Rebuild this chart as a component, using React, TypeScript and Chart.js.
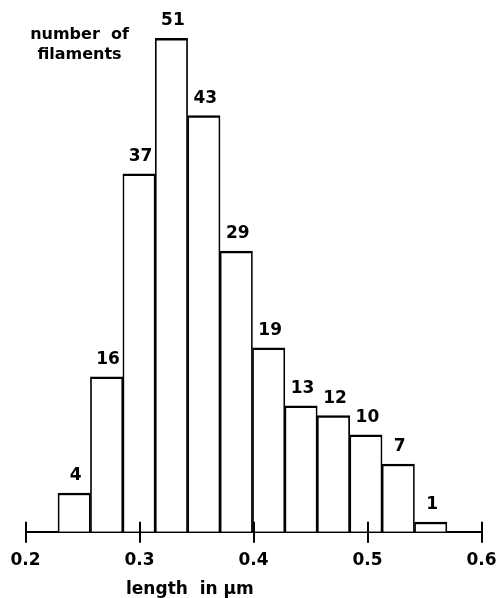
import React, { useEffect, useRef } from "react";
import { Chart, registerables } from "chart.js";

Chart.register(...registerables);

// Histogram bin edges (length in µm)
const binEdges = [
  0.2285, 0.2569, 0.2854, 0.3138, 0.3422, 0.3707, 0.3991, 0.4275, 0.4559,
  0.4844, 0.5128, 0.5412, 0.5697,
];
// Number of filaments in each bin
const counts = [4, 16, 37, 51, 43, 29, 19, 13, 12, 10, 7, 1];
// X axis tick values
const xTickValues = [0.2, 0.3, 0.4, 0.5, 0.6];
const yTitleLines = ["number  of", "filaments"];
const xTitle = "length  in μm";

const FONT = '"DejaVu Sans", "Liberation Sans", sans-serif';

export default function App() {
  const ref = useRef<HTMLCanvasElement>(null);

  useEffect(() => {
    if (!ref.current) return;
    const points = counts.map((c, i) => ({
      x: (binEdges[i] + binEdges[i + 1]) / 2,
      y: c,
    }));

    const overlay = {
      id: "overlay",
      afterDatasetsDraw(chart: any) {
        const ctx = chart.ctx as CanvasRenderingContext2D;
        const xs = chart.scales.x;
        const area = chart.chartArea;
        ctx.save();
        ctx.strokeStyle = "#000";
        ctx.lineWidth = 2;
        // tick marks also pointing upward from the axis
        xTickValues.forEach((v) => {
          const px = Math.round(xs.getPixelForValue(v));
          ctx.beginPath();
          ctx.moveTo(px, area.bottom - 10);
          ctx.lineTo(px, area.bottom + 1);
          ctx.stroke();
        });
        // value labels above bars
        ctx.fillStyle = "#000";
        ctx.font = `bold 17px ${FONT}`;
        ctx.textAlign = "center";
        ctx.textBaseline = "alphabetic";
        const meta = chart.getDatasetMeta(0);
        meta.data.forEach((el: any, i: number) => {
          ctx.fillText(String(counts[i]), el.x + 1.5, el.y - 13);
        });
        // y title (top-left)
        ctx.font = `bold 16px ${FONT}`;
        ctx.textAlign = "center";
        ctx.fillText(yTitleLines[0], area.left + 54, area.top + 10.5);
        ctx.fillText(yTitleLines[1], area.left + 54, area.top + 30.7);
        // x title
        ctx.font = `bold 17px ${FONT}`;
        ctx.textAlign = "left";
        ctx.fillText(xTitle, area.left + 100.5, area.bottom + 62);
        ctx.restore();
      },
    };

    const chart = new Chart(ref.current, {
      type: "bar",
      data: {
        datasets: [
          {
            data: points,
            backgroundColor: "#ffffff",
            borderColor: "#000000",
            borderWidth: { top: 2.5, left: 1.7, right: 1.7, bottom: 0 },
            borderSkipped: "start",
            barPercentage: 1,
            categoryPercentage: 1,
          },
        ],
      },
      options: {
        animation: false,
        responsive: false,
        devicePixelRatio: 1,
        layout: { padding: { top: 28.6, left: 25.5, right: 16.5, bottom: 19.6 } },
        plugins: {
          legend: { display: false },
          tooltip: { enabled: false },
          title: { display: false },
        },
        scales: {
          x: {
            type: "linear",
            min: 0.2,
            max: 0.6,
            offset: false,
            afterBuildTicks: (scale: any) => {
              scale.ticks = xTickValues.map((v) => ({ value: v }));
            },
            grid: {
              offset: false,
              display: true,
              drawOnChartArea: false,
              drawTicks: true,
              tickLength: 11,
              lineWidth: 2,
              color: "#000",
            },
            border: { display: true, color: "#000", width: 2 },
            ticks: {
              color: "#000",
              font: { family: FONT, size: 17, weight: "bold", lineHeight: 2.1 },
              padding: 0,
              maxRotation: 0,
              callback: (v: any) => Number(v).toFixed(1),
            },
          },
          y: {
            display: false,
            min: 0,
            max: 52,
          },
        },
      },
      plugins: [overlay],
    });
    return () => chart.destroy();
  }, []);

  return (
    <div style={{ position: "absolute", left: 0, top: 0, width: 498, height: 598, background: "#fff" }}>
      <canvas ref={ref} width={498} height={598} />
    </div>
  );
}
